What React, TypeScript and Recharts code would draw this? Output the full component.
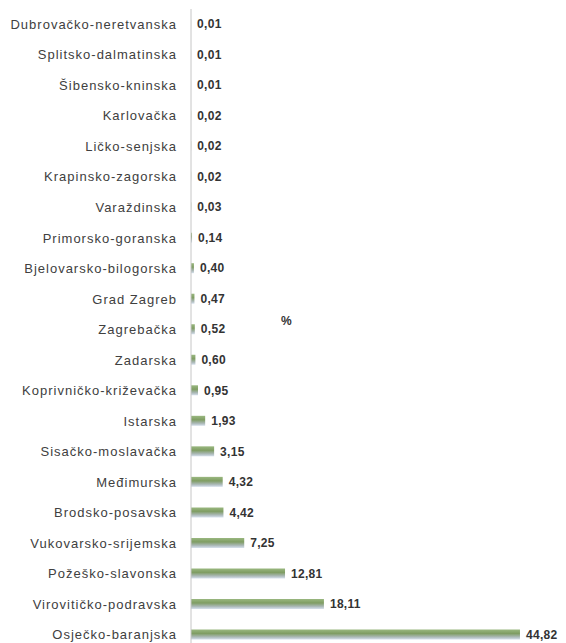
import React from 'react';
import { BarChart, Bar, XAxis, YAxis, LabelList } from 'recharts';

const counties = [
  'Dubrovačko-neretvanska',
  'Splitsko-dalmatinska',
  'Šibensko-kninska',
  'Karlovačka',
  'Ličko-senjska',
  'Krapinsko-zagorska',
  'Varaždinska',
  'Primorsko-goranska',
  'Bjelovarsko-bilogorska',
  'Grad Zagreb',
  'Zagrebačka',
  'Zadarska',
  'Koprivničko-križevačka',
  'Istarska',
  'Sisačko-moslavačka',
  'Međimurska',
  'Brodsko-posavska',
  'Vukovarsko-srijemska',
  'Požeško-slavonska',
  'Virovitičko-podravska',
  'Osječko-baranjska',
];

const shares = [
  0.01, 0.01, 0.01, 0.02, 0.02, 0.02, 0.03, 0.14, 0.4, 0.47, 0.52, 0.6, 0.95,
  1.93, 3.15, 4.32, 4.42, 7.25, 12.81, 18.11, 44.82,
];

const unitLabel = '%';

const data = counties.map((name, i) => ({ name, value: shares[i] }));

// Croatian decimal comma
const fmt = (v: number) => v.toFixed(2).replace('.', ',');

export default function App() {
  return (
    <div
      style={{
        position: 'relative',
        marginLeft: -8,
        marginTop: -8,
        width: 566,
        height: 643,
        overflow: 'hidden',
        background: '#fff',
        fontFamily: '"Liberation Sans", Arial, sans-serif',
      }}
    >
      <BarChart
        width={566}
        height={650}
        data={data}
        layout="vertical"
        margin={{ top: 9, right: 8, left: 0, bottom: 0 }}
        barCategoryGap={0}
      >
        <defs>
          <linearGradient id="barFill" x1="0" y1="0" x2="0" y2="1">
            <stop offset="0%" stopColor="#9ab880" />
            <stop offset="40%" stopColor="#7f9d63" />
            <stop offset="75%" stopColor="#aab8b6" />
            <stop offset="100%" stopColor="#d6e0ec" />
          </linearGradient>
        </defs>
        <XAxis type="number" domain={[0, 50]} hide />
        <YAxis
          type="category"
          dataKey="name"
          width={191}
          axisLine={{ stroke: '#c6c6c6' }}
          tickLine={false}
          tickSize={0}
          tickMargin={14}
          interval={0}
          tick={{ fill: '#404040', fontSize: 13, letterSpacing: 1 }}
        />
        <Bar dataKey="value" fill="url(#barFill)" barSize={10} isAnimationActive={false}>
          <LabelList
            dataKey="value"
            position="right"
            offset={6}
            formatter={(v: number) => fmt(v)}
            style={{ fill: '#333', fontSize: 12, fontWeight: 'bold', letterSpacing: 0.3 }}
          />
        </Bar>
      </BarChart>
      <div
        style={{
          position: 'absolute',
          left: 281,
          top: 314,
          fontSize: 12,
          fontWeight: 'bold',
          color: '#333',
        }}
      >
        {unitLabel}
      </div>
    </div>
  );
}
